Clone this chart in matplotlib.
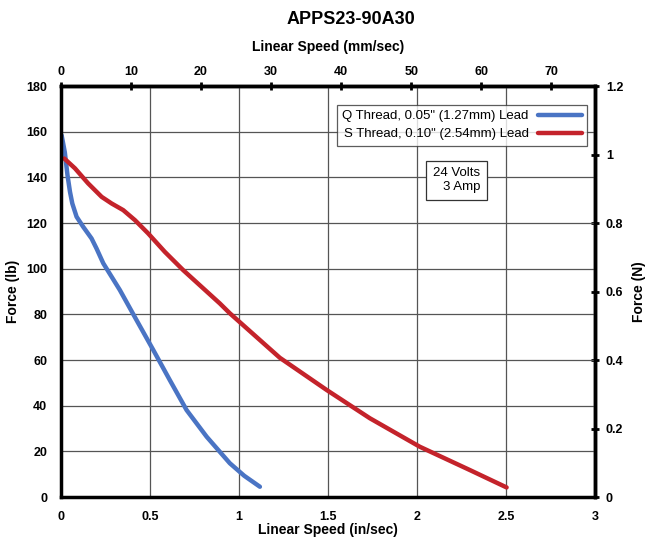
import matplotlib
matplotlib.use("Agg")
import matplotlib.pyplot as plt

# Speed (in/sec) vs force (lb)
q_speed = [0.004, 0.022, 0.037, 0.051, 0.064, 0.088, 0.125, 0.172, 0.2, 0.238,
           0.331, 0.425, 0.519, 0.612, 0.706, 0.819, 0.949, 1.03, 1.118]
q_force = [158.5, 151, 141, 133.7, 128.6, 122.8, 118.4, 113.3, 108.9, 102.4,
           90.7, 77.5, 64.4, 51.2, 38.1, 26.4, 14.8, 9.3, 4.5]

s_speed = [0.019, 0.079, 0.153, 0.229, 0.285, 0.35, 0.416, 0.49, 0.584, 0.687,
           0.893, 0.949, 1.23, 1.493, 1.736, 2.017, 2.298, 2.504]
s_force = [148.3, 144, 137.4, 131.5, 128.6, 125.7, 121.3, 115.5, 107.4, 99.4,
           84.8, 80.5, 61, 46.9, 34.5, 22, 11.8, 4.2]

labels = ['Q Thread, 0.05" (1.27mm) Lead', 'S Thread, 0.10" (2.54mm) Lead']
colors = ['#4a74c4', '#c4232b']

plt.rcParams['font.family'] = ['Liberation Sans', 'DejaVu Sans']

fig = plt.figure(figsize=(6.48, 5.42), dpi=100)
ax = fig.add_axes([0.094, 0.083, 0.824, 0.758])

ax.plot(q_speed, q_force, color=colors[0], lw=3.2, solid_capstyle='round',
        solid_joinstyle='round', label=labels[0])
ax.plot(s_speed, s_force, color=colors[1], lw=3.2, solid_capstyle='round',
        solid_joinstyle='round', label=labels[1])

ax.set_xlim(0, 3)
ax.set_ylim(0, 180)
ax.set_xticks([0, 0.5, 1, 1.5, 2, 2.5, 3])
ax.set_xticklabels(['0', '0.5', '1', '1.5', '2', '2.5', '3'])
ax.set_yticks(range(0, 181, 20))
ax.tick_params(axis='x', length=0, labelsize=9, pad=10)
ax.tick_params(axis='y', length=0, labelsize=9, pad=10)
for t in ax.get_xticklabels() + ax.get_yticklabels():
    t.set_fontweight('bold')
ax.grid(True, color='#555555', lw=0.9)
ax.set_axisbelow(True)
for s in ax.spines.values():
    s.set_linewidth(2.5)

ax.set_xlabel('Linear Speed (in/sec)', fontsize=10, fontweight='bold', labelpad=0)
ax.set_ylabel('Force (lb)', fontsize=10, fontweight='bold', labelpad=4)

top = ax.secondary_xaxis('top', functions=(lambda x: x * 25.4, lambda x: x / 25.4))
top.set_xticks(range(0, 71, 10))
top.tick_params(direction='inout', length=6, width=2, labelsize=9, pad=3)
for t in top.get_xticklabels():
    t.set_fontweight('bold')
top.set_xlabel('Linear Speed (mm/sec)', fontsize=10, fontweight='bold', labelpad=11)
top.spines['top'].set_linewidth(2.5)

right = ax.secondary_yaxis('right', functions=(lambda y: y / 150, lambda y: y * 150))
right.set_yticks([0, 0.2, 0.4, 0.6, 0.8, 1, 1.2])
right.set_yticklabels(['0', '0.2', '0.4', '0.6', '0.8', '1', '1.2'])
right.tick_params(direction='inout', length=6, width=2, labelsize=9, pad=5)
for t in right.get_yticklabels():
    t.set_fontweight('bold')
right.set_ylabel('Force (N)', fontsize=10, fontweight='bold', labelpad=6)
right.spines['right'].set_linewidth(2.5)

leg = ax.legend(loc='upper right', bbox_to_anchor=(0.985, 0.955), markerfirst=False,
                fontsize=9.5, frameon=True, fancybox=False, edgecolor='#333333',
                handlelength=3.3, borderpad=0.4, labelspacing=0.45, handletextpad=0.7,
                borderaxespad=0)
leg.get_frame().set_linewidth(0.9)

ax.text(0.741, 0.771, '24 Volts\n3 Amp', transform=ax.transAxes, ha='center', va='center',
        multialignment='right', fontsize=9.5,
        bbox=dict(boxstyle='square,pad=0.5', fc='white', ec='#333333', lw=0.9))

fig.suptitle('APPS23-90A30', x=0.541, y=0.98, fontsize=13, fontweight='bold')

fig.savefig('out.png', dpi=100)
